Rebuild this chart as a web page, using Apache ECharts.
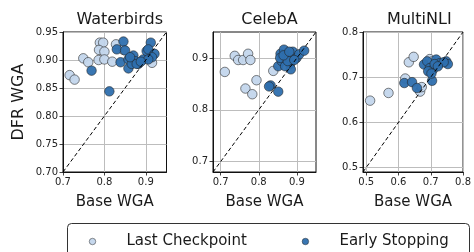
<!DOCTYPE html>
<html>
<head>
<meta charset="utf-8">
<script src="https://cdn.jsdelivr.net/npm/echarts@6/dist/echarts.min.js"></script>
<style>
  html, body { margin: 0; padding: 0; background: #fff; }
  #chart { width: 474px; height: 252px; }
</style>
</head>
<body>
<div id="chart"></div>
<script>
  // panel titles, axis ranges and tick values
  const titles = ['Waterbirds', 'CelebA', 'MultiNLI']
  const ranges = [[0.7, 0.95], [0.68, 0.95], [0.49, 0.8]]
  const xTicks = [[0.7, 0.8, 0.9], [0.7, 0.8, 0.9], [0.5, 0.6, 0.7, 0.8]]
  const yTicks = [[0.70, 0.75, 0.80, 0.85, 0.90, 0.95], [0.7, 0.8, 0.9], [0.5, 0.6, 0.7, 0.8]]
  const yDigits = [2, 1, 1]

  // [base WGA, DFR WGA]
  const waterbirdsLast = [
    [0.716, 0.873], [0.728, 0.865], [0.749, 0.903], [0.761, 0.896], [0.786, 0.900],
    [0.789, 0.931], [0.797, 0.931], [0.787, 0.918], [0.800, 0.915], [0.800, 0.901],
    [0.819, 0.897], [0.828, 0.928], [0.846, 0.918], [0.905, 0.905], [0.915, 0.895]
  ]
  const waterbirdsEarly = [
    [0.769, 0.881], [0.812, 0.844], [0.846, 0.933], [0.830, 0.919], [0.850, 0.917],
    [0.839, 0.896], [0.858, 0.901], [0.858, 0.885], [0.870, 0.908], [0.874, 0.898],
    [0.866, 0.893], [0.882, 0.893], [0.878, 0.893], [0.894, 0.901], [0.902, 0.916],
    [0.912, 0.931], [0.906, 0.919], [0.921, 0.911], [0.915, 0.905], [0.906, 0.901],
    [0.888, 0.897], [0.862, 0.905]
  ]
  const celebaLast = [
    [0.711, 0.873], [0.737, 0.904], [0.746, 0.896], [0.759, 0.896], [0.772, 0.908],
    [0.778, 0.896], [0.794, 0.857], [0.765, 0.841], [0.783, 0.830], [0.838, 0.875]
  ]
  const celebaEarly = [
    [0.851, 0.884], [0.857, 0.908], [0.866, 0.916], [0.860, 0.894], [0.873, 0.904],
    [0.882, 0.888], [0.889, 0.912], [0.899, 0.900], [0.906, 0.907], [0.919, 0.914],
    [0.884, 0.878], [0.869, 0.884], [0.831, 0.847], [0.827, 0.845], [0.851, 0.835],
    [0.856, 0.900], [0.876, 0.894], [0.893, 0.896], [0.865, 0.905], [0.880, 0.912]
  ]
  const multinliLast = [
    [0.512, 0.648], [0.569, 0.665], [0.632, 0.733], [0.647, 0.745], [0.621, 0.697],
    [0.667, 0.668], [0.672, 0.678], [0.697, 0.740], [0.705, 0.735], [0.710, 0.728]
  ]
  const multinliEarly = [
    [0.618, 0.687], [0.642, 0.689], [0.657, 0.676], [0.704, 0.692], [0.679, 0.728],
    [0.689, 0.735], [0.697, 0.720], [0.707, 0.717], [0.717, 0.739], [0.728, 0.731],
    [0.748, 0.735], [0.753, 0.729], [0.712, 0.729], [0.740, 0.733], [0.692, 0.713],
    [0.722, 0.724], [0.702, 0.708]
  ]
  const lastSets = [waterbirdsLast, celebaLast, multinliLast]
  const earlySets = [waterbirdsEarly, celebaEarly, multinliEarly]

  const FONT = 'DejaVu Sans'
  const lightColor = '#c3d6ec'
  const darkColor = '#2e6fae'
  const gridLefts = [63, 213, 363]
  const gridWidths = [103.5, 103, 102.5]

  const chart = echarts.init(document.getElementById('chart'), null, { renderer: 'canvas' })

  const grids = []
  const xAxes = []
  const yAxes = []
  const series = []
  const titleOpts = []

  titles.forEach((name, i) => {
    grids.push({
      left: gridLefts[i],
      top: 32,
      width: gridWidths[i],
      height: 140,
      show: true,
      borderColor: '#111',
      borderWidth: 1,
      backgroundColor: '#fff'
    })
    titleOpts.push({
      text: name,
      left: gridLefts[i] + gridWidths[i] / 2,
      top: 7,
      textAlign: 'center',
      textStyle: { fontFamily: FONT, fontSize: 16, fontWeight: 'normal', color: '#1a1a1a' }
    })
    const common = {
      type: 'value',
      gridIndex: i,
      min: ranges[i][0],
      max: ranges[i][1],
      axisLine: { show: true, onZero: false, lineStyle: { color: '#111', width: 1 } },
      splitLine: { show: true, lineStyle: { color: '#bdbdbd', width: 1 } }
    }
    xAxes.push(Object.assign({}, common, {
      name: 'Base WGA',
      nameLocation: 'middle',
      nameGap: 23,
      nameTextStyle: { fontFamily: FONT, fontSize: 15, color: '#1a1a1a' },
      axisTick: { show: true, length: 3.5, customValues: xTicks[i], lineStyle: { color: '#111', width: 0.8 } },
      axisLabel: {
        customValues: xTicks[i],
        margin: 5,
        fontFamily: FONT,
        fontSize: 10,
        color: '#222',
        formatter: v => v.toFixed(1)
      }
    }))
    yAxes.push(Object.assign({}, common, {
      name: i === 0 ? 'DFR WGA' : '',
      nameLocation: 'middle',
      nameGap: 36,
      nameTextStyle: { fontFamily: FONT, fontSize: 16, color: '#1a1a1a' },
      axisTick: { show: true, length: 3.5, customValues: yTicks[i], lineStyle: { color: '#111', width: 0.8 } },
      axisLabel: {
        customValues: yTicks[i],
        margin: 5,
        fontFamily: FONT,
        fontSize: 10,
        color: '#222',
        formatter: v => v.toFixed(yDigits[i])
      }
    }))
    series.push({
      name: 'Last Checkpoint',
      type: 'scatter',
      xAxisIndex: i,
      yAxisIndex: i,
      symbolSize: 9.5,
      itemStyle: { color: lightColor, borderColor: '#222', borderWidth: 0.6, opacity: 0.95 },
      data: lastSets[i],
      z: 3
    })
    series.push({
      name: 'Early Stopping',
      type: 'scatter',
      xAxisIndex: i,
      yAxisIndex: i,
      symbolSize: 9.5,
      itemStyle: { color: darkColor, borderColor: '#222', borderWidth: 0.6, opacity: 0.95 },
      data: earlySets[i],
      z: 4
    })
    // y = x reference line across the panel
    series.push({
      type: 'line',
      xAxisIndex: i,
      yAxisIndex: i,
      symbol: 'none',
      silent: true,
      lineStyle: { color: '#000', width: 1, type: [4, 2.5] },
      data: [[ranges[i][0], ranges[i][0]], [ranges[i][1], ranges[i][1]]],
      z: 5
    })
  })

  const option = {
    animation: false,
    backgroundColor: '#fff',
    title: titleOpts,
    grid: grids,
    xAxis: xAxes,
    yAxis: yAxes,
    legend: {
      data: ['Last Checkpoint', 'Early Stopping'],
      left: 84,
      top: 229,
      orient: 'horizontal',
      itemWidth: 14,
      itemHeight: 6.5,
      itemGap: 55,
      icon: 'circle',
      itemStyle: { borderWidth: 0.5 },
      textStyle: { fontFamily: FONT, fontSize: 15, color: '#1a1a1a', padding: [0, 0, 0, 22] }
    },
    graphic: [{
      type: 'rect',
      shape: { x: 67.5, y: 223.5, width: 402, height: 40, r: 4 },
      style: { fill: 'none', stroke: '#333', lineWidth: 1 },
      silent: true
    }],
    series: series
  }
  chart.setOption(option)
</script>
</body>
</html>
